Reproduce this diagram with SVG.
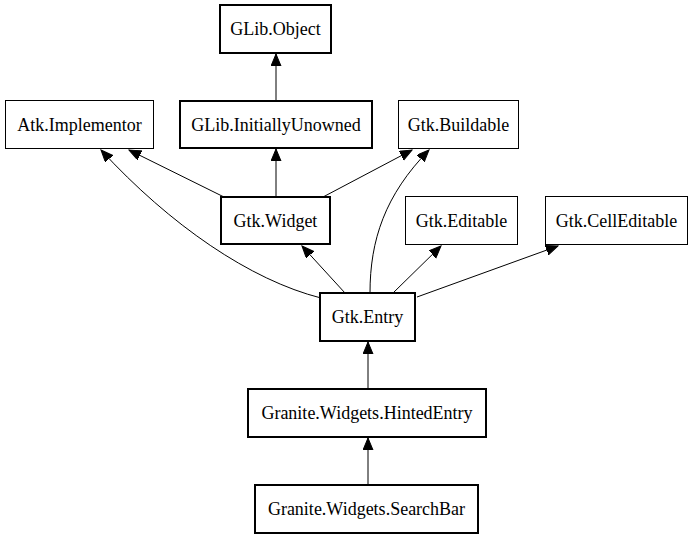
<svg xmlns="http://www.w3.org/2000/svg" width="692" height="539" viewBox="0 0 692 539">
<style>
.n rect{fill:#fff;stroke:#000;stroke-width:1}
.n.b rect{stroke-width:2}
.n text{font-family:"Liberation Serif","Times New Roman",serif;font-size:18px;text-anchor:middle;fill:#000}
.e path{fill:none;stroke:#000;stroke-width:1}
</style>
<defs>
<marker id="ah" markerUnits="userSpaceOnUse" markerWidth="14" markerHeight="12" refX="12" refY="5" orient="auto">
<path d="M0,0 L12,5 L0,10 Z" fill="#000" stroke="#000" stroke-width="1"/>
</marker>
</defs>
<rect width="692" height="539" fill="#fff"/>
<g id="edges" class="e">
<path d="M276,100 L276,54" marker-end="url(#ah)"/>
<path d="M224,197 L129,150" marker-end="url(#ah)"/>
<path d="M276,197 L276,149" marker-end="url(#ah)"/>
<path d="M323,197 L412,150" marker-end="url(#ah)"/>
<path d="M321,298 C250,280 170,225 101,150" marker-end="url(#ah)"/>
<path d="M370,293 C370,240 385,195 429,150" marker-end="url(#ah)"/>
<path d="M345,293 L302,246" marker-end="url(#ah)"/>
<path d="M393,293 L441,246" marker-end="url(#ah)"/>
<path d="M417,297 L558,246" marker-end="url(#ah)"/>
<path d="M368,389 L368,342" marker-end="url(#ah)"/>
<path d="M368,485 L368,438" marker-end="url(#ah)"/>
</g>
<g id="GLib.Object" class="n b"><rect x="220" y="5" width="111" height="48"/><text x="275.5" y="35">GLib.Object</text></g>
<g id="Atk.Implementor" class="n"><rect x="5.5" y="100.5" width="148" height="48"/><text x="79.5" y="130.5">Atk.Implementor</text></g>
<g id="GLib.InitiallyUnowned" class="n b"><rect x="180" y="101" width="192" height="47"/><text x="276" y="130.5">GLib.InitiallyUnowned</text></g>
<g id="Gtk.Buildable" class="n"><rect x="398.5" y="100.5" width="120" height="48"/><text x="458.5" y="130.5">Gtk.Buildable</text></g>
<g id="Gtk.Widget" class="n b"><rect x="221" y="197" width="109" height="47"/><text x="275.5" y="226.5">Gtk.Widget</text></g>
<g id="Gtk.Editable" class="n"><rect x="405.5" y="196.5" width="112" height="48"/><text x="461.5" y="226.5">Gtk.Editable</text></g>
<g id="Gtk.CellEditable" class="n"><rect x="545.5" y="196.5" width="142" height="48"/><text x="616.5" y="226.5">Gtk.CellEditable</text></g>
<g id="Gtk.Entry" class="n b"><rect x="320" y="293" width="95" height="48"/><text x="367.5" y="323">Gtk.Entry</text></g>
<g id="Granite.Widgets.HintedEntry" class="n b"><rect x="248" y="389" width="238" height="48"/><text x="367" y="419">Granite.Widgets.HintedEntry</text></g>
<g id="Granite.Widgets.SearchBar" class="n b"><rect x="255" y="485" width="223" height="48"/><text x="366.5" y="515">Granite.Widgets.SearchBar</text></g>
</svg>
